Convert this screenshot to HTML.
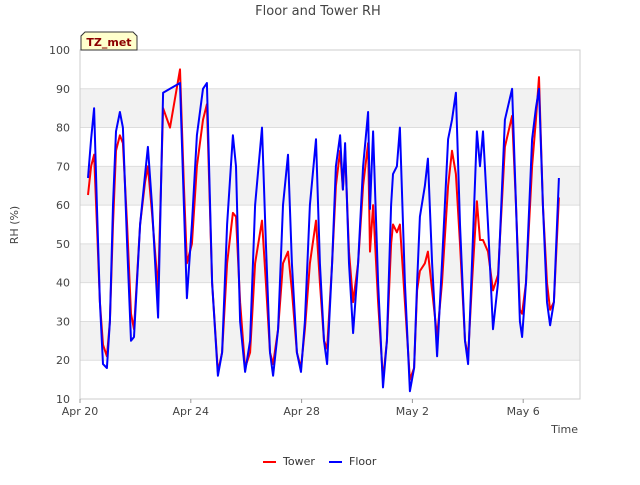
<!DOCTYPE html>
<html><head><meta charset="utf-8"><style>
body{margin:0;background:#fff;font-family:"Liberation Sans","DejaVu Sans",sans-serif}
svg text{font-family:"DejaVu Sans","Liberation Sans",sans-serif}
</style></head><body>
<svg id="c" width="640" height="480" xmlns="http://www.w3.org/2000/svg">
<rect width="640" height="480" fill="#fff"/>
<text x="318" y="15" text-anchor="middle" font-size="13" fill="#444">Floor and Tower RH</text>
<text transform="translate(18,225) rotate(-90)" text-anchor="middle" font-size="11" fill="#444">RH (%)</text>
<text x="578" y="433" text-anchor="end" font-size="11" fill="#444">Time</text>
<g id="plot"></g>
<g>
<path d="M81,50 L81,36 L85,32 L133,32 L137,36 L137,50 Z" fill="#ffffcc" stroke="#333"/>
<text x="109" y="46" text-anchor="middle" font-size="11" font-weight="bold" fill="#8b0000">TZ_met</text>
</g>
<g>
<g><line x1="263" y1="462" x2="276" y2="462" stroke="#f00" stroke-width="2"/><text x="283" y="465" font-size="11" fill="#333">Tower</text></g>
<g><line x1="329" y1="462" x2="342" y2="462" stroke="#00f" stroke-width="2"/><text x="349" y="465" font-size="11" fill="#333">Floor</text></g>
</g>
</svg>
<script>
const days=[0.29,0.40,0.51,0.61,0.72,0.83,0.97,1.08,1.19,1.30,1.44,1.55,1.70,1.84,1.95,2.17,2.35,2.45,2.60,2.82,3.00,3.25,3.61,3.75,3.86,4.04,4.22,4.44,4.58,4.77,4.98,5.13,5.31,5.52,5.63,5.78,5.96,6.14,6.32,6.57,6.71,6.86,6.97,7.15,7.33,7.51,7.65,7.83,7.98,8.12,8.30,8.52,8.66,8.81,8.92,9.10,9.24,9.39,9.49,9.57,9.71,9.86,10.04,10.22,10.40,10.47,10.58,10.76,10.94,11.08,11.23,11.30,11.44,11.55,11.73,11.91,12.06,12.17,12.27,12.45,12.56,12.71,12.89,13.07,13.29,13.43,13.57,13.72,13.90,14.01,14.15,14.33,14.44,14.55,14.73,14.91,15.09,15.34,15.60,15.74,15.88,15.96,16.10,16.32,16.46,16.57,16.71,16.86,16.97,17.11,17.29];
const floorRH=[67,77,85,60,35,19,18,30,60,79,84,80,50,25,26,55,68,75,60,31,89,90,91.5,60,36,55,78,90,91.5,40,16,22,55,78,70,30,17,25,60,80,50,22,16,28,60,73,45,22,17,30,60,77,45,25,19,45,70,78,64,76,45,27,45,70,84,59,79,40,13,25,60,68,70,80,40,12,18,40,57,65,72,45,21,45,77,82,89,55,25,19,45,79,70,79,55,28,40,82,90,60,30,26,40,77,85,90,60,35,29,35,67];
const towerRH=[62.6,70,73,55,35,24,21,30,55,74,78,76,55,32,28,55,66,70,58,38,85,80,95,65,45,50,70,82,86,40,17,22,45,58,57,35,18,22,45,56,40,22,19,28,45,48,38,22,18,28,45,56,40,25,23,45,65,74,64,74,48,35,45,65,76,48,60,35,15,25,50,55,53,55,35,15,18,38,43,45,48,38,26,40,65,74,68,50,25,21,40,61,51,51,48,38,42,75,83,60,33,32,40,70,82,93,60,40,33,35,62];
const yTicks=[10,20,30,40,50,60,70,80,90,100];
const xTickDays=[0,4,8,12,16];
const xTickLabels=["Apr 20","Apr 24","Apr 28","May 2","May 6"];
const L=80,R=580,T=50,B=399;
const xs=d=>L+d*27.7;
const ys=v=>B-(v-10)*(B-T)/90;
const NS="http://www.w3.org/2000/svg";
const g=document.getElementById('plot');
function mk(t,a){const e=document.createElementNS(NS,t);for(const k in a)e.setAttribute(k,a[k]);g.appendChild(e);return e;}
for(let i=0;i<yTicks.length-1;i++){
  if(i%2===1){const b=mk('rect',{x:L,y:ys(yTicks[i+1]),width:R-L,height:ys(yTicks[i])-ys(yTicks[i+1]),fill:'#f2f2f2'});
  
  }
}
yTicks.forEach(v=>{
  const l=mk('line',{x1:L,x2:R,y1:ys(v),y2:ys(v),stroke:'#ddd'});
  
  
  const t=mk('text',{x:L-10,y:ys(v)+4,'text-anchor':'end','font-size':11,fill:'#444'});
  
  
  t.textContent=v;
});
const fr=mk('rect',{x:L,y:T,width:R-L,height:B-T,fill:'none',stroke:'#ccc'});


xTickDays.forEach((d,i)=>{
  const l=mk('line',{x1:xs(d),x2:xs(d),y1:B,y2:B+4,stroke:'#999'});
  
  
  const t=mk('text',{x:xs(d),y:B+16,'text-anchor':'middle','font-size':11,fill:'#444'});
  
  
  t.textContent=xTickLabels[i];
});
function line(vals,color,name){
  const p=mk('polyline',{points:days.map((d,i)=>xs(d).toFixed(1)+','+ys(vals[i]).toFixed(1)).join(' '),fill:'none',stroke:color,'stroke-width':2,'stroke-linejoin':'round'});
  
  
}
line(towerRH,'#f00','tower-line');
line(floorRH,'#00f','floor-line');
</script>
</body></html>
